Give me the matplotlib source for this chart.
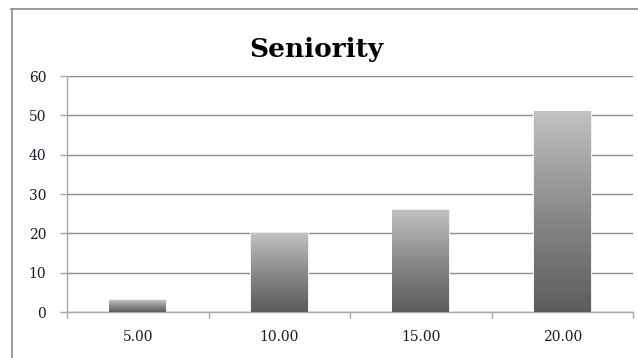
import numpy as np
import matplotlib
matplotlib.use('Agg')
import matplotlib.pyplot as plt
from matplotlib.colors import LinearSegmentedColormap
from matplotlib.lines import Line2D

categories = ['5.00', '10.00', '15.00', '20.00']
counts = [3, 20, 26, 51]
y_ticks = [0, 10, 20, 30, 40, 50, 60]

GRID = '#8c8c8c'
AXIS = '#a6a6a6'
TEXT = '#1a1a2a'

# dark bottom -> light top, like the default office gradient fill
bar_cmap = LinearSegmentedColormap.from_list('bar_grad', ['#5c5c5c', '#8a8a8a', '#c2c2c2'])

fig = plt.figure(figsize=(6.38, 3.58), dpi=100)
ax = fig.add_axes([67 / 638, 1 - 312 / 358, (633 - 67) / 638, (312 - 76) / 358])

x = np.arange(len(categories))
bars = ax.bar(x, counts, width=0.4, color='none', edgecolor='none', zorder=3)

grad = np.linspace(0, 1, 256).reshape(-1, 1)
for bar in bars:
    x0, w, h = bar.get_x(), bar.get_width(), bar.get_height()
    # faint soft shadow around the bar
    ax.add_patch(plt.Rectangle((x0 - 0.006, 0), w + 0.016, h + 0.2, facecolor='#f0f0f0',
                               edgecolor='none', zorder=2))
    im = ax.imshow(grad, cmap=bar_cmap, aspect='auto', origin='lower',
                   extent=(x0, x0 + w, 0, h), zorder=3)
    im.set_clip_path(bar)

ax.set_xlim(-0.5, len(categories) - 0.5)
ax.set_ylim(0, 60)
ax.set_yticks(y_ticks)
ax.yaxis.grid(True, color=GRID, linewidth=1.0, zorder=0)
ax.set_axisbelow(True)

ax.set_xticks(x)
ax.set_xticklabels(categories)
ax.set_xticks(np.arange(-0.5, len(categories)), minor=True)
ax.tick_params(axis='x', which='major', length=0, pad=13)
ax.tick_params(axis='x', which='minor', length=4, color=AXIS, width=1)
ax.tick_params(axis='y', length=5, color=AXIS, width=1, pad=10)

for side in ['top', 'right']:
    ax.spines[side].set_visible(False)
for side in ['left', 'bottom']:
    ax.spines[side].set_color(AXIS)
    ax.spines[side].set_linewidth(1.0)

for lbl in ax.get_xticklabels() + ax.get_yticklabels():
    lbl.set_fontfamily('DejaVu Serif')
    lbl.set_fontsize(10)
    lbl.set_color(TEXT)

fig.text(316 / 638, 1 - 49 / 358, 'Seniority', ha='center', va='center',
         fontsize=19, fontweight='bold', family='DejaVu Serif', color='#000000')

# outer chart frame
fig.add_artist(Line2D([11 / 638, 1], [1 - 9 / 358, 1 - 9 / 358], color='#8a8a8a', linewidth=1.2))
fig.add_artist(Line2D([12 / 638, 12 / 638], [0, 1 - 9 / 358], color='#8a8a8a', linewidth=1.2))

fig.savefig('out.png', dpi=100)
